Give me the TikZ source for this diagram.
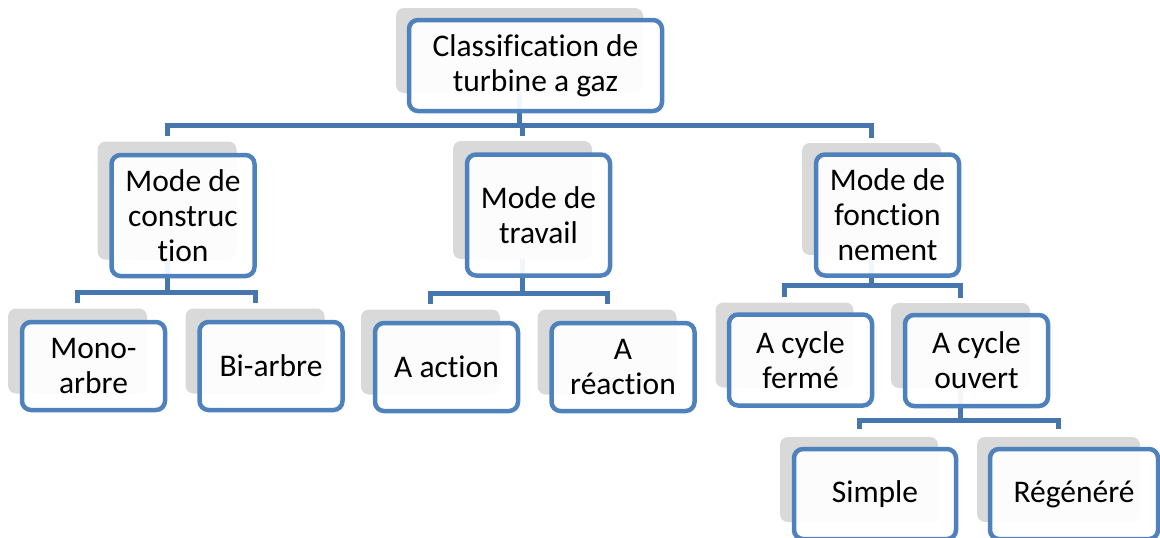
\documentclass[tikz,border=0pt]{standalone}
\usepackage{fontspec}
\setmainfont{Carlito}[Ligatures={NoCommon}]
\usetikzlibrary{backgrounds,calc}
\definecolor{boxblue}{HTML}{4F81BD}
\definecolor{connblue}{HTML}{4775AE}
\definecolor{shadowgray}{HTML}{D9D9D9}
\tikzset{
  box/.style={draw=boxblue, line width=4.5pt, rounded corners=9pt, fill=white,
    fill opacity=0.93, text opacity=1, align=center, inner sep=0pt,
    font=\fontsize{31.5}{35}\selectfont},
  lvlA/.style={box, minimum width=143pt, minimum height=121pt},
  lvlB/.style={box, minimum width=143pt, minimum height=88pt},
  lvlC/.style={box, minimum width=143pt, minimum height=91pt},
  back/.style={fill=shadowgray, rounded corners=8pt, inner sep=0pt, draw=none},
  conn/.style={draw=connblue, line width=5pt, line join=miter},
}
\begin{document}
\begin{tikzpicture}[x=1pt,y=-1pt]
\useasboundingbox (0,0) rectangle (1160,538);
% main boxes
\node[box, minimum width=253pt, minimum height=91pt] (root) at (535.5,65.5) {Classification de\\turbine a gaz};
\node[lvlA] (c1) at (183,215.5) {Mode de\\construc\\tion};
\node[lvlA] (c2) at (538.5,215) {Mode de\\travail};
\node[lvlA] (c3) at (887.5,215) {Mode de\\fonction\\nement};
\node[lvlB] (m1) at (93.5,366) {Mono-\\arbre};
\node[lvlB] (m2) at (271,366) {Bi-arbre};
\node[lvlB] (t1) at (446.5,367) {A action};
\node[lvlB] (t2) at (623,367) {A\\réaction};
\node[lvlC] (f1) at (800.5,360) {A cycle\\fermé};
\node[lvlC] (f2) at (976.5,360.5) {A cycle\\ouvert};
\node[box, minimum width=162pt, minimum height=90pt] (s1) at (875,494) {Simple};
\node[box, minimum width=168pt, minimum height=90pt] (s2) at (1074,494) {Régénéré};
\begin{scope}[on background layer]
  % gray backing boxes
  \node[back, minimum width=247pt, minimum height=85pt] (rootS) at ($(root)+(-16pt,15pt)$) {};
  \node[back, minimum width=139pt, minimum height=118pt] (c1S) at ($(c1)+(-16pt,15pt)$) {};
  \node[back, minimum width=139pt, minimum height=118pt] (c2S) at ($(c2)+(-16pt,15pt)$) {};
  \node[back, minimum width=139pt, minimum height=112pt] (c3S) at ($(c3)+(-16pt,16pt)$) {};
  \node[back, minimum width=139pt, minimum height=85pt] (m1S) at ($(m1)+(-16pt,15pt)$) {};
  \node[back, minimum width=139pt, minimum height=85pt] (m2S) at ($(m2)+(-16pt,15pt)$) {};
  \node[back, minimum width=139pt, minimum height=85pt] (t1S) at ($(t1)+(-16pt,15pt)$) {};
  \node[back, minimum width=139pt, minimum height=85pt] (t2S) at ($(t2)+(-16pt,15pt)$) {};
  \node[back, minimum width=138pt, minimum height=85pt] (f1S) at ($(f1)+(-16pt,15pt)$) {};
  \node[back, minimum width=139pt, minimum height=85pt] (f2S) at ($(f2)+(-16pt,15pt)$) {};
  \node[back, minimum width=158pt, minimum height=85pt] (s1S) at ($(s1)+(-16pt,14.5pt)$) {};
  \node[back, minimum width=163pt, minimum height=85pt] (s2S) at ($(s2)+(-15.5pt,14.5pt)$) {};
  % connectors
  \foreach \ch in {c1S,c2S,c3S}
    \draw[conn] (rootS.south) -- ++(0pt,-32pt) -| ([yshift=5pt]\ch.north);
  \foreach \ch in {m1S,m2S}
    \draw[conn] (c1S.south) -- ++(0pt,-33pt) -| ([yshift=5pt]\ch.north);
  \foreach \ch in {t1S,t2S}
    \draw[conn] (c2S.south) -- ++(0pt,-34pt) -| ([yshift=5pt]\ch.north);
  \foreach \ch in {f1S,f2S}
    \draw[conn] (c3S.south) -- ++(0pt,-30pt) -| ([yshift=5pt]\ch.north);
  \foreach \ch in {s1S,s2S}
    \draw[conn] (f2S.south) -- ++(0pt,-32pt) -| ([yshift=8pt]\ch.north);
\end{scope}
\end{tikzpicture}
\end{document}
